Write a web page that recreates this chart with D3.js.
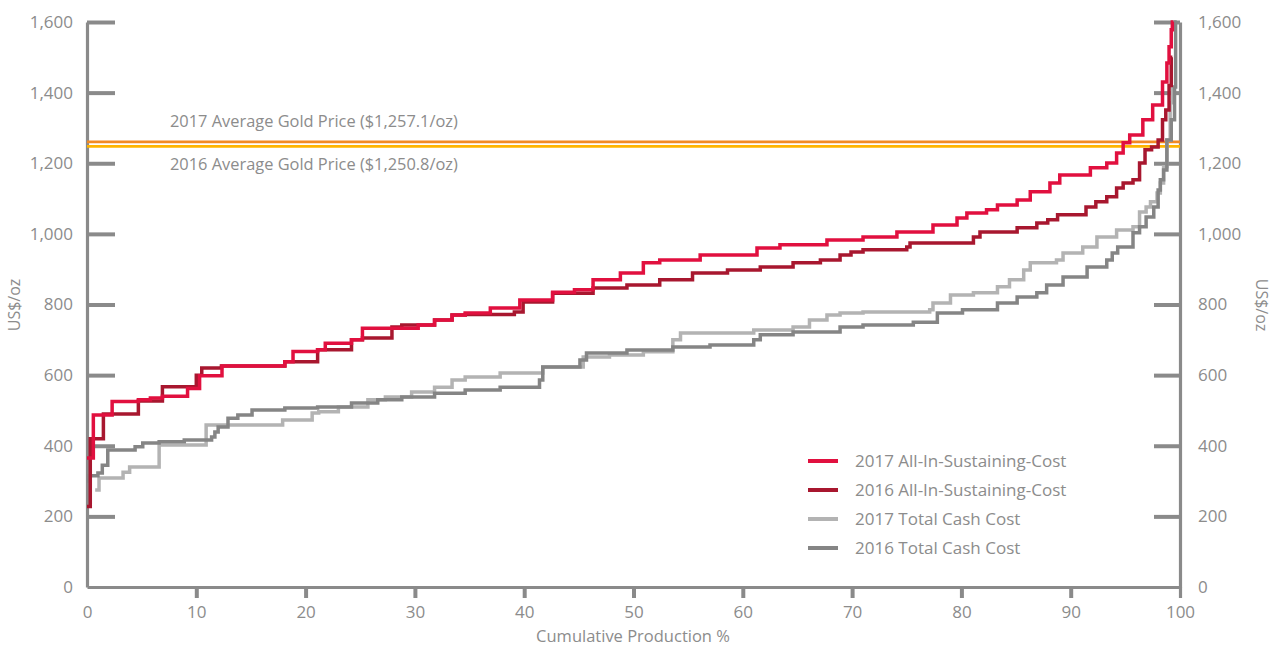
<!DOCTYPE html>
<html>
<head>
<meta charset="utf-8">
<script src="https://cdn.jsdelivr.net/npm/d3@7"></script>
<style>
  html, body { margin: 0; padding: 0; background: #ffffff; }
  svg { display: block; }
  text { font-family: "Open Sans", "Noto Sans", sans-serif; fill: #8c8c8c; }
</style>
</head>
<body>
<svg id="chart" width="1281" height="647"></svg>
<script>
// ---- Data (cumulative production %, US$/oz) ----
const xTicks = [0, 10, 20, 30, 40, 50, 60, 70, 80, 90, 100];
const yTicks = [0, 200, 400, 600, 800, 1000, 1200, 1400, 1600];

const goldPrice2017 = 1257.1;
const goldPrice2016 = 1250.8;
const goldLabel2017 = "2017 Average Gold Price ($1,257.1/oz)";
const goldLabel2016 = "2016 Average Gold Price ($1,250.8/oz)";

// 2017 All-In-Sustaining-Cost
const aisc2017Pct = [0, 0.58, 2.3, 4.7, 5.8, 6.9, 9.2, 10.3, 12.35, 18.1, 18.85, 21.1, 21.8, 24.2, 25.2, 30.3, 31.8, 33.4, 34.6, 36.9, 39.6, 42.6, 44.6, 46.3, 48.8, 50.9, 52.4, 56.1, 61.3, 63.4, 67.7, 71.0, 74.1, 77.4, 79.6, 80.5, 82.3, 83.3, 85.1, 86.3, 88.1, 89.0, 91.8, 93.3, 94.2, 94.8, 95.4, 96.6, 97.5, 98.4, 98.8, 99.0, 99.2, 99.3, 99.4];
const aisc2017Val = [365, 487, 525, 530, 535, 540, 562, 598, 626, 638, 667, 672, 690, 700, 733, 742, 756, 770, 776, 790, 813, 835, 842, 870, 889, 918, 926, 940, 960, 969, 983, 991, 1005, 1025, 1045, 1059, 1068, 1082, 1096, 1119, 1144, 1167, 1187, 1201, 1229, 1258, 1280, 1323, 1365, 1430, 1484, 1530, 1578, 1600, 1600];

// 2016 All-In-Sustaining-Cost
const aisc2016Pct = [0, 0.3, 1.5, 4.7, 6.9, 10.0, 10.5, 12.3, 18.1, 21.1, 24.2, 25.2, 27.9, 28.8, 31.8, 33.4, 34.6, 39.1, 39.9, 42.6, 46.3, 49.4, 52.4, 55.4, 58.6, 61.6, 64.6, 67.1, 68.9, 69.9, 71.0, 75.0, 75.3, 81.1, 81.7, 85.1, 86.9, 87.9, 88.8, 91.4, 92.3, 93.3, 94.2, 94.8, 95.7, 96.3, 96.8, 97.4, 98.0, 98.4, 98.7, 99.0, 99.2, 99.3];
const aisc2016Val = [228, 420, 490, 527, 567, 600, 620, 626, 638, 672, 700, 705, 736, 742, 756, 770, 772, 779, 807, 832, 847, 855, 870, 889, 898, 906, 918, 926, 940, 949, 955, 963, 974, 991, 1005, 1017, 1031, 1040, 1054, 1076, 1091, 1105, 1130, 1144, 1153, 1201, 1238, 1246, 1266, 1323, 1351, 1420, 1500, 1500];

// 2017 Total Cash Cost
const tcc2017Pct = [0.75, 1.1, 3.3, 3.9, 6.6, 10.9, 17.9, 20.6, 21.2, 23.0, 25.7, 27.3, 29.7, 31.8, 33.4, 34.6, 37.8, 41.7, 45.4, 47.8, 50.9, 53.6, 54.3, 61.0, 64.6, 66.1, 67.7, 68.9, 71.0, 77.1, 77.4, 79.0, 81.1, 83.3, 84.4, 85.7, 86.3, 88.7, 89.3, 91.1, 92.4, 94.2, 95.7, 96.3, 96.9, 97.3, 97.9, 98.2, 98.5, 98.8, 99.1, 99.3, 99.4];
const tcc2017Val = [275, 309, 325, 340, 402, 459, 473, 493, 496, 510, 530, 538, 552, 566, 586, 595, 606, 623, 651, 657, 666, 700, 719, 728, 736, 756, 770, 776, 779, 785, 804, 827, 833, 850, 870, 898, 918, 926, 946, 963, 991, 1011, 1020, 1062, 1076, 1091, 1116, 1144, 1190, 1266, 1371, 1416, 1416];

// 2016 Total Cash Cost
const tcc2016Pct = [0, 0.2, 1.0, 1.4, 1.9, 4.4, 5.1, 6.6, 8.9, 11.4, 11.7, 12.0, 12.9, 13.8, 15.1, 18.1, 21.1, 24.2, 26.6, 28.8, 31.8, 34.6, 37.8, 41.4, 41.7, 45.1, 45.7, 49.4, 53.6, 57.0, 61.0, 61.6, 64.6, 68.9, 71.0, 75.6, 77.8, 80.1, 83.3, 85.1, 86.9, 87.8, 89.3, 91.5, 93.3, 93.8, 94.3, 95.7, 96.3, 96.9, 97.6, 98.0, 98.2, 98.5, 98.8, 99.2, 99.5, 99.6, 99.7];
const tcc2016Val = [300, 315, 323, 345, 388, 397, 408, 411, 416, 425, 439, 453, 478, 487, 501, 507, 510, 521, 530, 538, 549, 558, 566, 586, 623, 643, 663, 671, 680, 685, 700, 714, 722, 736, 742, 750, 776, 785, 804, 821, 833, 855, 878, 906, 926, 946, 963, 1003, 1020, 1048, 1076, 1124, 1153, 1181, 1266, 1323, 1416, 1600, 1600];

const seriesNames = ["2017 All-In-Sustaining-Cost", "2016 All-In-Sustaining-Cost", "2017 Total Cash Cost", "2016 Total Cash Cost"];
const seriesColors = ["#e1103f", "#a8172f", "#b3b3b3", "#858585"];

// ---- Build ----
const svg = d3.select("#chart");
const x = d3.scaleLinear().domain([0, 100]).range([87, 1180]);
const y = d3.scaleLinear().domain([0, 1600]).range([587, 22]);
const axisColor = "#8a8a8a";

// Left axis
const gl = svg.append("g").attr("transform", `translate(${x(0)},0)`)
  .call(d3.axisLeft(y).tickValues(yTicks).tickSizeInner(-28).tickSizeOuter(0).tickPadding(14).tickFormat(d3.format(",")));
// Right axis
const gr = svg.append("g").attr("transform", `translate(${x(100)},0)`)
  .call(d3.axisRight(y).tickValues(yTicks).tickSizeInner(-26).tickSizeOuter(0).tickPadding(18).tickFormat(d3.format(",")));
// Bottom axis
const gb = svg.append("g").attr("transform", `translate(0,${y(0)})`)
  .call(d3.axisBottom(x).tickValues(xTicks).tickSize(11).tickSizeOuter(0).tickPadding(8));
gb.selectAll(".tick").filter(d => d === 0).select("line").remove();

[gl, gr, gb].forEach(g => {
  g.select(".domain").attr("stroke", axisColor).attr("stroke-width", 3.2);
  g.selectAll(".tick line").attr("stroke", axisColor).attr("stroke-width", 4);
  g.selectAll(".tick text").attr("fill", "#8c8c8c").style("font-size", "17px");
});
gl.selectAll(".tick").filter(d => d === 0).select("line").remove();
gr.selectAll(".tick").filter(d => d === 0).select("line").remove();
gb.selectAll(".tick").filter(d => d === 100).select("line").attr("stroke-width", 3.2);

// Gold price lines
svg.append("line").attr("x1", x(0)).attr("x2", x(100))
  .attr("y1", y(goldPrice2016) + 1).attr("y2", y(goldPrice2016) + 1)
  .attr("stroke", "#ffb400").attr("stroke-width", 2.7);
svg.append("line").attr("x1", x(0)).attr("x2", x(100))
  .attr("y1", y(goldPrice2017) - 1.2).attr("y2", y(goldPrice2017) - 1.2)
  .attr("stroke", "#f28a24").attr("stroke-width", 2.7);

svg.append("text").attr("x", 170).attr("y", 121).attr("dy", "0.35em")
  .style("font-size", "16.4px").text(goldLabel2017);
svg.append("text").attr("x", 170).attr("y", 164).attr("dy", "0.35em")
  .style("font-size", "16.4px").text(goldLabel2016);

// Series lines
const lineGen = d3.line().x(d => x(d[0])).y(d => y(d[1])).curve(d3.curveStepAfter);
const series = [
  { pct: tcc2017Pct, val: tcc2017Val, i: 2 },
  { pct: tcc2016Pct, val: tcc2016Val, i: 3 },
  { pct: aisc2016Pct, val: aisc2016Val, i: 1 },
  { pct: aisc2017Pct, val: aisc2017Val, i: 0 }
];
series.forEach(s => {
  const pts = s.pct.map((p, k) => [p, s.val[k]]);
  svg.append("path").datum(pts)
    .attr("d", lineGen)
    .attr("fill", "none")
    .attr("stroke", seriesColors[s.i])
    .attr("stroke-width", 3.5)
    .attr("stroke-linejoin", "miter");
});

// Legend
const legend = svg.append("g");
seriesNames.forEach((name, i) => {
  const cy = 461 + i * 29;
  legend.append("line").attr("x1", 808).attr("x2", 838).attr("y1", cy).attr("y2", cy)
    .attr("stroke", seriesColors[i]).attr("stroke-width", 4);
  legend.append("text").attr("x", 855).attr("y", cy).attr("dy", "0.35em")
    .style("font-size", "17px").text(name);
});

// Axis titles
svg.append("text").attr("transform", "translate(14,305) rotate(-90)")
  .attr("text-anchor", "middle").attr("dy", "0.35em").style("font-size", "16px").text("US$/oz");
svg.append("text").attr("transform", "translate(1262,305) rotate(90)")
  .attr("text-anchor", "middle").attr("dy", "0.35em").style("font-size", "16px").text("US$/oz");
svg.append("text").attr("x", 633).attr("y", 636).attr("text-anchor", "middle")
  .attr("dy", "0.35em").style("font-size", "16.5px").text("Cumulative Production %");
</script>
</body>
</html>
